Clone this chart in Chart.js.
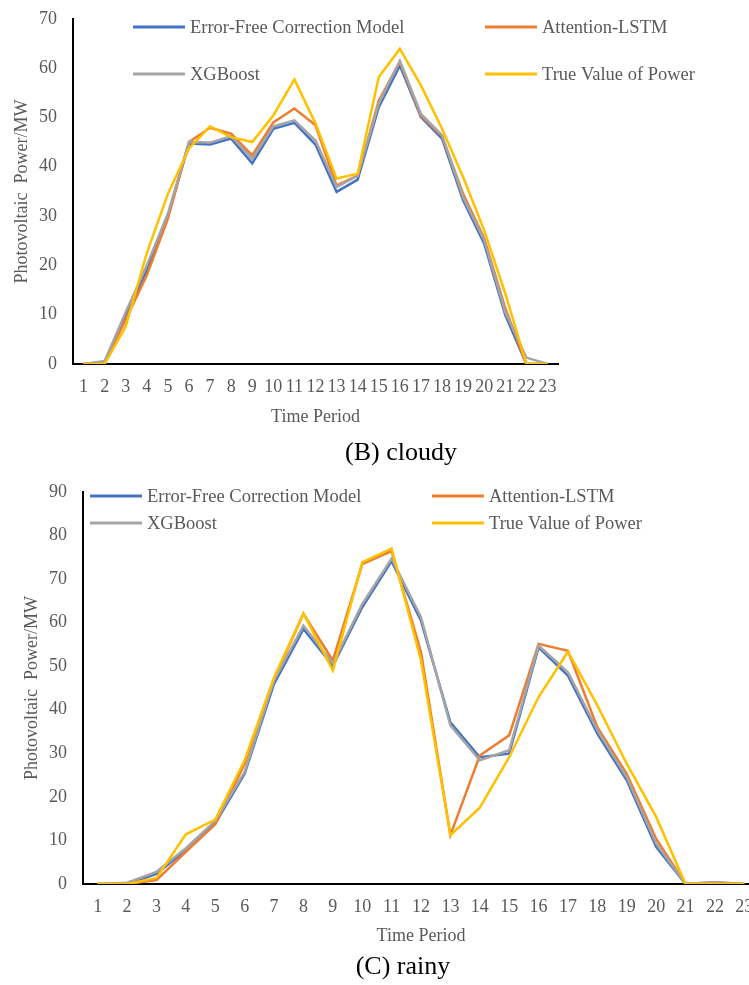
<!DOCTYPE html>
<html>
<head>
<meta charset="utf-8">
<script src="https://cdn.jsdelivr.net/npm/chart.js@4.4.1/dist/chart.umd.min.js"></script>
<style>
html, body { margin: 0; padding: 0; background: #fff; }
body { width: 749px; height: 985px; overflow: hidden; position: relative; font-family: 'Liberation Serif', 'Times New Roman', serif; }
canvas { position: absolute; left: 0; }
#cloudy { top: -8px; }
#rainy { top: 465px; }
.caption { position: absolute; font-size: 26px; color: #000; white-space: nowrap; transform: translate(-50%, -50%); line-height: 1; }
</style>
</head>
<body>
<canvas id="cloudy" width="749" height="448"></canvas>
<div class="caption" style="left:401px; top:452px;">(B) cloudy</div>
<canvas id="rainy" width="770" height="520"></canvas>
<div class="caption" style="left:403px; top:966px;">(C) rainy</div>
<script>
// Time periods 1..23 (x axis)
const periods = ['1','2','3','4','5','6','7','8','9','10','11','12','13','14','15','16','17','18','19','20','21','22','23'];

const seriesNames = ['Error-Free Correction Model', 'Attention-LSTM', 'XGBoost', 'True Value of Power'];
const seriesColors = ['#4472C4', '#ED7D31', '#A5A5A5', '#FFC000'];

// (B) cloudy
const cloudyErrorFree = [0, 0.3, 10, 19, 30, 44.7, 44.5, 45.7, 40.7, 47.7, 48.9, 44.5, 34.9, 37.4, 52.1, 60.5, 50.1, 45.7, 33.2, 24.4, 9.9, 0, 0];
const cloudyLstm      = [0, 0.3, 9, 18, 29.5, 45, 47.9, 46.7, 42.3, 49, 51.8, 48.4, 36.2, 38.2, 53.4, 61.3, 50.4, 46.2, 34.5, 25.5, 11.3, 0, 0];
const cloudyXgb       = [0, 0.6, 10.5, 20, 30.5, 45, 44.9, 46.2, 41.6, 48.2, 49.4, 45.3, 35.9, 38.2, 52.8, 61.5, 50.7, 46.4, 33.8, 25.1, 10.5, 1.3, 0];
const cloudyTrue      = [0, 0, 7.6, 22.5, 34.5, 43.7, 48.2, 46, 45, 50.4, 57.7, 48.8, 37.6, 38.6, 58.2, 63.9, 56.5, 47.7, 37.9, 27.1, 14.3, 0, 0];

// (C) rainy
const rainyErrorFree = [0, 0, 2.3, 7.8, 13.9, 25.3, 45.9, 58.5, 50.1, 63.5, 74.1, 60.4, 37.1, 29.1, 29.9, 54.3, 47.8, 34.5, 23.8, 8.5, 0, 0, 0];
const rainyLstm      = [0, 0, 0.9, 7.4, 13.7, 27.6, 47, 62, 51.3, 73.4, 76.4, 53.2, 11.2, 29.5, 34.1, 55.1, 53.5, 36, 25.3, 10.4, 0, 0.4, 0];
const rainyXgb       = [0, 0.3, 2.8, 8.2, 14.5, 25.7, 46.7, 59.3, 50.6, 64.2, 74.7, 61.2, 36.4, 28.4, 30.7, 54.7, 48.6, 35.3, 24.5, 9.3, 0, 0.4, 0];
const rainyTrue      = [0, 0, 1.4, 11.4, 14.8, 28.4, 47.4, 62.1, 49, 73.8, 77, 51.3, 11.2, 17.5, 29.1, 42.9, 53.3, 41, 27.6, 15.4, 0, 0, 0];

Chart.defaults.font.family = "'Liberation Serif', 'Times New Roman', serif";
Chart.defaults.color = '#595959';

// Two-column legend drawn inside the plot, like the Excel original
const gridLegend = {
    id: 'gridLegend',
    afterDraw(chart, args, opts) {
        const ctx = chart.ctx;
        ctx.save();
        ctx.font = opts.fontSize + "px 'Liberation Serif', 'Times New Roman', serif";
        ctx.textBaseline = 'middle';
        ctx.textAlign = 'left';
        chart.data.datasets.forEach((ds, i) => {
            const x = opts.cols[i % 2];
            const y = opts.rows[Math.floor(i / 2)];
            ctx.strokeStyle = ds.borderColor;
            ctx.lineWidth = 3;
            ctx.beginPath();
            ctx.moveTo(x, y);
            ctx.lineTo(x + 52, y);
            ctx.stroke();
            ctx.fillStyle = '#595959';
            ctx.fillText(ds.label, x + 57, y + 1);
        });
        ctx.restore();
    }
};

function makeChart(id, series, yMax, cfg) {
    const datasets = series.map((values, i) => ({
        label: seriesNames[i],
        data: values,
        borderColor: seriesColors[i],
        backgroundColor: seriesColors[i],
        borderWidth: 2.5,
        pointRadius: 0,
        tension: 0,
        fill: false,
        order: 4 - i
    }));
    return new Chart(document.getElementById(id).getContext('2d'), {
        type: 'line',
        data: { labels: periods, datasets: datasets },
        plugins: [gridLegend],
        options: {
            responsive: false,
            animation: false,
            layout: { padding: cfg.padding },
            plugins: {
                legend: { display: false },
                tooltip: { enabled: false },
                gridLegend: { cols: cfg.legendCols, rows: cfg.legendRows, fontSize: 18.5 }
            },
            scales: {
                x: {
                    offset: true,
                    grid: { display: false, drawTicks: false },
                    border: { display: true, color: '#000', width: 2 },
                    ticks: { autoSkip: false, maxRotation: 0, padding: 12, font: { size: 18 }, color: '#595959' },
                    title: { display: true, text: 'Time Period', font: { size: 18 }, color: '#595959' },
                    afterFit(scale) { scale.height = cfg.xHeight; }
                },
                y: {
                    min: 0,
                    max: yMax,
                    grid: { display: false, drawTicks: false },
                    border: { display: true, color: '#000', width: 2 },
                    ticks: { stepSize: 10, padding: 16, font: { size: 18 }, color: '#595959' },
                    title: { display: true, text: 'Photovoltaic  Power/MW', font: { size: 18 }, color: '#595959' },
                    afterFit(scale) { scale.width = cfg.yWidth; }
                }
            }
        }
    });
}

makeChart('cloudy', [cloudyErrorFree, cloudyLstm, cloudyXgb, cloudyTrue], 70, {
    padding: { left: 7, right: 191, top: 18, bottom: 8 },
    xHeight: 68,
    yWidth: 66,
    legendCols: [133, 485],
    legendRows: [35, 82]
});

makeChart('rainy', [rainyErrorFree, rainyLstm, rainyXgb, rainyTrue], 90, {
    padding: { left: 17, right: 11, top: 21, bottom: 34 },
    xHeight: 67,
    yWidth: 66,
    legendCols: [90, 432],
    legendRows: [31, 58]
});
</script>
</body>
</html>
